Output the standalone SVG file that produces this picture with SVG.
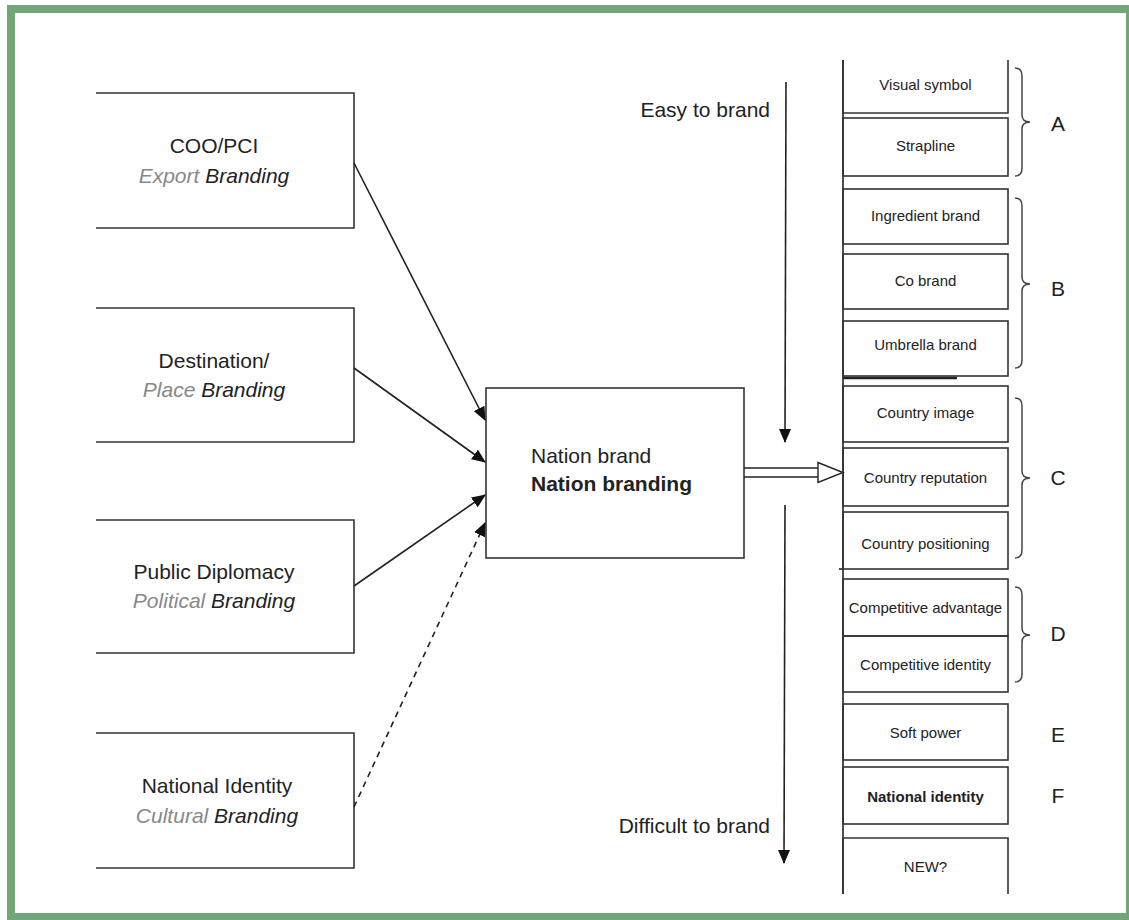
<svg xmlns="http://www.w3.org/2000/svg" width="1129" height="920" viewBox="0 0 1129 920">
<defs>
<style>
.frame{fill:none;stroke:#72a678;stroke-width:8}
.box{fill:none;stroke:#333;stroke-width:1.6}
.t{font-family:"Liberation Sans",Arial,sans-serif;fill:#222}
.big{font-size:21px}
.sm{font-size:15px}
.c{text-anchor:middle}
.it{font-style:italic}
.gr{fill:#888}
.b{font-weight:bold}
.ln{stroke:#222;stroke-width:1.6;fill:none}
.br{stroke:#444;stroke-width:1.5;fill:none}
</style>
<marker id="ah" markerWidth="14" markerHeight="12" refX="13" refY="6" orient="auto" markerUnits="userSpaceOnUse">
<path d="M0,0 L14,6 L0,12 Z" fill="#111"/>
</marker>
</defs>
<rect width="1129" height="920" fill="#fff"/>
<rect class="frame" x="11" y="9" width="1119" height="908"/>

<g id="coo">
<path class="box" d="M96,93 H354 V228 H96"/>
<text class="t big c" x="214" y="153">COO/PCI</text>
<text class="t big c it" x="214" y="183"><tspan class="gr">Export</tspan> Branding</text>
</g>
<g id="destination">
<path class="box" d="M96,308 H354 V442 H96"/>
<text class="t big c" x="214" y="368">Destination/</text>
<text class="t big c it" x="214" y="397"><tspan class="gr">Place</tspan> Branding</text>
</g>
<g id="diplomacy">
<path class="box" d="M96,520 H354 V653 H96"/>
<text class="t big c" x="214" y="579">Public Diplomacy</text>
<text class="t big c it" x="214" y="608"><tspan class="gr">Political</tspan> Branding</text>
</g>
<g id="identity">
<path class="box" d="M96,733 H354 V868 H96"/>
<text class="t big c" x="217" y="793">National Identity</text>
<text class="t big c it" x="217" y="823"><tspan class="gr">Cultural</tspan> Branding</text>
</g>
<g id="nation">
<rect class="box" x="486" y="388" width="258" height="170"/>
<text class="t big" x="531" y="463">Nation brand</text>
<text class="t big b" x="531" y="491">Nation branding</text>
</g>

<g id="connectors">
<line class="ln" x1="354" y1="163" x2="485" y2="420" marker-end="url(#ah)"/>
<line class="ln" x1="354" y1="368" x2="485" y2="462" marker-end="url(#ah)"/>
<line class="ln" x1="354" y1="586" x2="485" y2="495" marker-end="url(#ah)"/>
<line class="ln" x1="354" y1="807" x2="485" y2="523" stroke-dasharray="6,5" marker-end="url(#ah)"/>
<path class="ln" d="M744,468 H818 M744,477 H818"/>
<path d="M818,462.5 L843,472.5 L818,482.5 Z" fill="#fff" stroke="#222" stroke-width="1.4"/>
<line class="ln" x1="786" y1="82" x2="785" y2="442" marker-end="url(#ah)"/>
<line class="ln" x1="785" y1="505" x2="784" y2="863" marker-end="url(#ah)"/>
</g>

<g id="scale-labels">
<text class="t big" x="770" y="117" text-anchor="end">Easy to brand</text>
<text class="t big" x="770" y="833" text-anchor="end">Difficult to brand</text>
</g>

<g id="column">
<line class="ln" x1="843" y1="60" x2="843" y2="894"/>
<line x1="843" y1="378" x2="957" y2="378" stroke="#222" stroke-width="2.5"/>
<line class="ln" x1="839" y1="569" x2="843" y2="569"/>
</g>

<g id="visual-symbol">
<path class="box" d="M843,60 V113 H1008 V60"/>
<text class="t sm c" x="925.5" y="90">Visual symbol</text>
</g>
<g id="strapline">
<rect class="box" x="843" y="118" width="165" height="58"/>
<text class="t sm c" x="925.5" y="151">Strapline</text>
</g>
<g id="ingredient">
<rect class="box" x="843" y="189" width="165" height="55"/>
<text class="t sm c" x="925.5" y="221">Ingredient brand</text>
</g>
<g id="cobrand">
<rect class="box" x="843" y="254" width="165" height="55"/>
<text class="t sm c" x="925.5" y="286">Co brand</text>
</g>
<g id="umbrella">
<rect class="box" x="843" y="321" width="165" height="55"/>
<text class="t sm c" x="925.5" y="350">Umbrella brand</text>
</g>
<g id="country-image">
<rect class="box" x="843" y="386" width="165" height="56"/>
<text class="t sm c" x="925.5" y="418">Country image</text>
</g>
<g id="country-reputation">
<rect class="box" x="843" y="448" width="165" height="58"/>
<text class="t sm c" x="925.5" y="483">Country reputation</text>
</g>
<g id="country-positioning">
<rect class="box" x="843" y="512" width="165" height="57"/>
<text class="t sm c" x="925.5" y="549">Country positioning</text>
</g>
<g id="competitive-advantage">
<rect class="box" x="843" y="579" width="165" height="57"/>
<text class="t sm c" x="925.5" y="613">Competitive advantage</text>
</g>
<g id="competitive-identity">
<rect class="box" x="843" y="636" width="165" height="56"/>
<text class="t sm c" x="925.5" y="670">Competitive identity</text>
</g>
<g id="soft-power">
<rect class="box" x="843" y="704" width="165" height="56"/>
<text class="t sm c" x="925.5" y="738">Soft power</text>
</g>
<g id="national-identity">
<rect class="box" x="843" y="767" width="165" height="57"/>
<text class="t sm c b" x="925.5" y="802">National identity</text>
</g>
<g id="new">
<path class="box" d="M843,894 V838 H1008 V894"/>
<text class="t sm c" x="925.5" y="872">NEW?</text>
</g>

<g id="groups">
<path class="br" d="M1015,68 q7,0 7,8 V115 q0,7 8,7 q-8,0 -8,7 V168 q0,8 -7,8"/>
<path class="br" d="M1015,198 q7,0 7,8 V277 q0,7 8,7 q-8,0 -8,7 V360 q0,8 -7,8"/>
<path class="br" d="M1015,398 q7,0 7,8 V471 q0,7 8,7 q-8,0 -8,7 V550 q0,8 -7,8"/>
<path class="br" d="M1015,587 q7,0 7,8 V628 q0,7 8,7 q-8,0 -8,7 V674 q0,8 -7,8"/>
<text class="t big c" x="1058" y="131">A</text>
<text class="t big c" x="1058" y="296">B</text>
<text class="t big c" x="1058" y="485">C</text>
<text class="t big c" x="1058" y="641">D</text>
<text class="t big c" x="1058" y="742">E</text>
<text class="t big c" x="1058" y="803">F</text>
</g>
</svg>
